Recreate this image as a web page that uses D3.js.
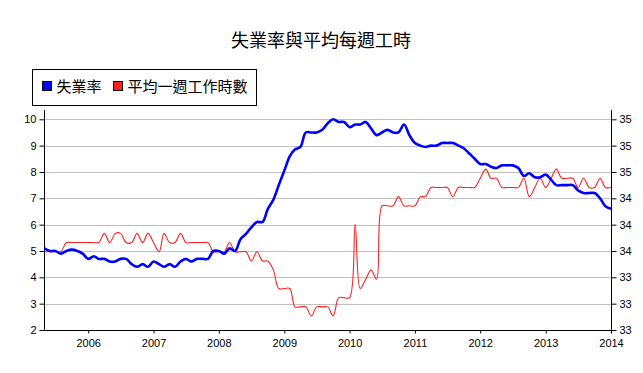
<!DOCTYPE html>
<html><head><meta charset="utf-8">
<script src="https://cdn.jsdelivr.net/npm/d3@7"></script>
<style>body{margin:0;background:#fff;overflow:hidden}</style>
</head><body>
<svg id="c" width="643" height="373"></svg>
<script>
const title = "失業率與平均每週工時";
const seriesNames = ["失業率", "平均一週工作時數"];
const seriesColors = ["#0000ff", "#ff2020"];
const firstMonth = new Date(2005, 4, 1);   // May 2005
const lastMonth = new Date(2014, 0, 1);    // Jan 2014
const unemployment = [
  5.1,5.0,5.0,4.9,5.0,5.05,5.0,4.9,4.7,4.8,
  4.7,4.7,4.6,4.6,4.7,4.7,4.5,4.4,4.5,4.4,
  4.6,4.5,4.4,4.5,4.4,4.6,4.7,4.6,4.7,4.7,
  4.7,5.0,5.0,4.9,5.1,5.0,5.45,5.65,5.9,6.1,
  6.1,6.6,6.95,7.5,8.05,8.6,8.85,8.95,9.5,9.5,
  9.5,9.6,9.85,10.0,9.9,9.9,9.7,9.8,9.8,9.9,
  9.65,9.4,9.5,9.6,9.5,9.5,9.8,9.4,9.1,9.0,
  8.95,9.0,9.0,9.1,9.1,9.1,9.0,8.9,8.7,8.5,
  8.3,8.3,8.2,8.15,8.25,8.25,8.25,8.15,7.85,7.95,
  7.8,7.8,7.9,7.7,7.5,7.5,7.5,7.5,7.3,7.2,
  7.2,7.2,7.0,6.7,6.6
];
const weeklyHours = [
  33.7,33.7,33.7,33.7,33.8,33.8,33.8,33.8,33.8,33.8,
  33.8,33.9,33.8,33.9,33.9,33.8,33.8,33.9,33.8,33.9,
  33.8,33.7,33.9,33.8,33.8,33.9,33.8,33.8,33.8,33.8,
  33.8,33.7,33.7,33.7,33.8,33.7,33.7,33.7,33.6,33.7,
  33.6,33.6,33.5,33.3,33.3,33.3,33.1,33.1,33.1,33.0,
  33.1,33.1,33.1,33.0,33.2,33.2,33.2,34.0,33.3,33.4,
  33.5,33.4,34.2,34.2,34.2,34.3,34.2,34.2,34.2,34.3,
  34.3,34.4,34.4,34.4,34.4,34.3,34.4,34.4,34.4,34.4,
  34.5,34.6,34.5,34.5,34.4,34.4,34.4,34.4,34.5,34.3,
  34.4,34.5,34.4,34.5,34.6,34.5,34.5,34.5,34.4,34.5,
  34.4,34.4,34.5,34.4,34.4
];
const yearTicks = [2006,2007,2008,2009,2010,2011,2012,2013,2014];
const leftTicks = [2,3,4,5,6,7,8,9,10];
const rightTickLabels = ["33","33","33","34","34","34","35","35","35"];
const hoursDomain = [32.848, 35.142];

const months = d3.timeMonth.range(firstMonth, d3.timeMonth.offset(lastMonth, 1));
const svg = d3.select("#c");
const L = 44.4, R = 611, T = 110, B = 330;
const x = d3.scaleTime().domain([firstMonth, lastMonth]).range([L, R]);
const yL = d3.scaleLinear().domain([2, 10]).range([B, 119.3]);
const yR = d3.scaleLinear().domain(hoursDomain).range([B, 119.3]);
const numFont = "'Liberation Sans', Arial, sans-serif";
const cjkFont = "'Noto Sans CJK TC', 'Noto Sans CJK SC', sans-serif";

svg.append("rect").attr("width",643).attr("height",373).attr("fill","#fff");

// title
svg.append("text").attr("x", 321).attr("y", 47).attr("text-anchor","middle")
  .attr("font-family", cjkFont).attr("font-size", 18).attr("fill","#000").text(title);

// legend
const lg = svg.append("g");
lg.append("rect").attr("x",32.5).attr("y",69.5).attr("width",224).attr("height",36)
  .attr("fill","#fff").attr("stroke","#000").attr("stroke-width",1);
const legX = [42.5, 113.5];
seriesNames.forEach((n,i)=>{
  lg.append("rect").attr("x",legX[i]).attr("y",81.5).attr("width",9).attr("height",9)
    .attr("fill",seriesColors[i]).attr("stroke","#000").attr("stroke-width",1);
  lg.append("text").attr("x",legX[i]+14).attr("y",92).attr("font-family",cjkFont)
    .attr("font-size",15).attr("fill","#000").text(n);
});

// gridlines
svg.append("g").selectAll("line").data(leftTicks.filter(d=>d>2)).join("line")
  .attr("x1",L).attr("x2",R).attr("y1",d=>Math.round(yL(d))+0.5).attr("y2",d=>Math.round(yL(d))+0.5)
  .attr("stroke","#c0c0c0").attr("stroke-width",1);

// axes
const axL = svg.append("g").attr("transform",`translate(${Math.round(L)+0.5},0)`)
  .call(d3.axisLeft(yL).tickValues(leftTicks).tickSize(5).tickPadding(3).tickSizeOuter(0));
const rightVals = leftTicks.map(v => yR.invert(yL(v)));
const axR = svg.append("g").attr("transform",`translate(${R+0.5},0)`)
  .call(d3.axisRight(yR).tickValues(rightVals).tickSize(5).tickPadding(3).tickSizeOuter(0)
    .tickFormat((d,i)=>rightTickLabels[i]));
const axB = svg.append("g").attr("transform",`translate(0,${B+0.5})`)
  .call(d3.axisBottom(x).tickValues(yearTicks.map(y=>new Date(y,0,1))).tickSize(3).tickPadding(4)
    .tickSizeOuter(0).tickFormat(d3.timeFormat("%Y")));
[axL, axR, axB].forEach(a=>{
  a.select(".domain").remove();
  a.selectAll("text").attr("font-family",numFont).attr("font-size",11).attr("fill","#000");
  a.selectAll("line").attr("stroke","#000");
});
axB.selectAll("text").attr("dy","0.9em");
// axis lines
svg.append("line").attr("x1",Math.round(L)+0.5).attr("x2",Math.round(L)+0.5).attr("y1",T).attr("y2",B+1).attr("stroke","#000");
svg.append("line").attr("x1",R+0.5).attr("x2",R+0.5).attr("y1",T).attr("y2",B+1).attr("stroke","#000");
svg.append("line").attr("x1",L).attr("x2",R+1).attr("y1",B+0.5).attr("y2",B+0.5).attr("stroke","#000");

// lines
const lineU = d3.line().x((d,i)=>x(months[i])).y(d=>yL(d)).curve(d3.curveCatmullRom.alpha(0.5));
const lineH = d3.line().x((d,i)=>x(months[i])).y(d=>yR(d)).curve(d3.curveCatmullRom.alpha(0.5));
svg.append("path").datum(weeklyHours).attr("d",lineH).attr("fill","none")
  .attr("stroke",seriesColors[1]).attr("stroke-width",1.1);
svg.append("path").datum(unemployment).attr("d",lineU).attr("fill","none")
  .attr("stroke",seriesColors[0]).attr("stroke-width",2.6).attr("stroke-linejoin","round");
</script>
</body></html>
